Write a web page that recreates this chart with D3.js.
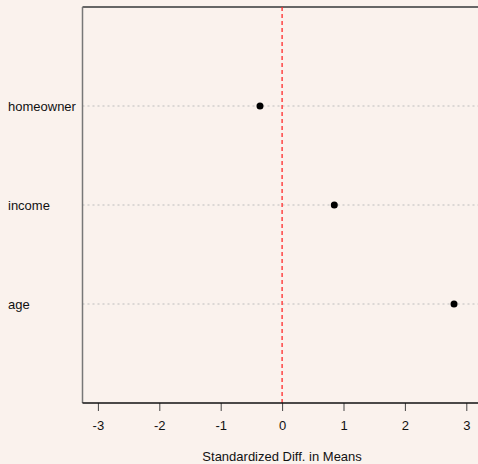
<!DOCTYPE html>
<html>
<head>
<meta charset="utf-8">
<script src="https://cdn.jsdelivr.net/npm/d3@7"></script>
<style>
  body { margin: 0; background: #faf2ed; }
  svg { display: block; font-family: "Liberation Sans", Arial, sans-serif; }
</style>
</head>
<body>
<div id="chart"></div>
<script>
// chart data
var covariates = ["age", "income", "homeowner"];
var stdDiffs = [2.80, 0.85, -0.36];
var xTicks = [-3, -2, -1, 0, 1, 2, 3];

var svgWidth = 478;
var svgHeight = 464;
var fontSize = 13;

var svg = d3.select("#chart")
  .append("svg")
  .attr("width", svgWidth)
  .attr("height", svgHeight);

svg.append("rect")
  .attr("width", svgWidth)
  .attr("height", svgHeight)
  .attr("fill", "#faf2ed");

var plotLeft = 82.5, plotTop = 7, plotBottom = 403;

// x scale: 0 sits at 282.3, one unit is ~61.4px
var xScale = d3.scaleLinear()
  .domain([-3, 3])
  .range([97.9, 466.3]);

var yScale = d3.scaleLinear()
  .domain([0, 4])
  .range([plotBottom, plotTop]);

// dotted grid lines for each covariate
svg.append("g")
  .selectAll("line")
  .data(covariates)
  .enter()
  .append("line")
  .attr("x1", plotLeft)
  .attr("x2", svgWidth)
  .attr("y1", (d, i) => yScale(i + 1))
  .attr("y2", (d, i) => yScale(i + 1))
  .attr("stroke", "#bdbdbd")
  .attr("stroke-width", 1)
  .attr("stroke-dasharray", "2,3");

// frame: top and left
svg.append("line")
  .attr("x1", plotLeft).attr("x2", svgWidth)
  .attr("y1", plotTop).attr("y2", plotTop)
  .attr("stroke", "#666").attr("stroke-width", 2);
svg.append("line")
  .attr("x1", plotLeft).attr("x2", plotLeft)
  .attr("y1", plotTop).attr("y2", plotBottom)
  .attr("stroke", "#777").attr("stroke-width", 1.5);

// red reference line at zero
svg.append("line")
  .attr("x1", xScale(0)).attr("x2", xScale(0))
  .attr("y1", plotTop).attr("y2", plotBottom)
  .attr("stroke", "#ff2a2a")
  .attr("stroke-width", 1.3)
  .attr("stroke-dasharray", "4,3");

// points
svg.append("g")
  .selectAll("circle")
  .data(stdDiffs)
  .enter()
  .append("circle")
  .attr("cx", d => xScale(d))
  .attr("cy", (d, i) => yScale(i + 1))
  .attr("r", 3.5)
  .attr("fill", "#000");

// covariate labels, left aligned
svg.append("g")
  .selectAll("text")
  .data(covariates)
  .enter()
  .append("text")
  .attr("x", 8)
  .attr("y", (d, i) => yScale(i + 1))
  .attr("dy", "0.35em")
  .attr("text-anchor", "start")
  .attr("font-size", fontSize)
  .attr("fill", "#111")
  .text(d => d);

// x axis
var bottomAxis = d3.axisBottom(xScale)
  .tickValues(xTicks)
  .tickSize(8)
  .tickPadding(10)
  .tickFormat(d => String(d));

var xAxis = svg.append("g")
  .attr("transform", `translate(0, ${plotBottom})`)
  .call(bottomAxis);

xAxis.select(".domain").remove();
xAxis.selectAll(".tick line").attr("stroke", "#444");
xAxis.selectAll("text")
  .attr("font-size", fontSize)
  .attr("font-family", "Liberation Sans, Arial, sans-serif")
  .attr("fill", "#111");

svg.append("line")
  .attr("x1", plotLeft).attr("x2", svgWidth)
  .attr("y1", plotBottom).attr("y2", plotBottom)
  .attr("stroke", "#111").attr("stroke-width", 1.5);

// axis title
svg.append("text")
  .attr("x", xScale(0))
  .attr("y", 461)
  .attr("text-anchor", "middle")
  .attr("font-size", fontSize)
  .attr("fill", "#111")
  .text("Standardized Diff. in Means");
</script>
</body>
</html>
